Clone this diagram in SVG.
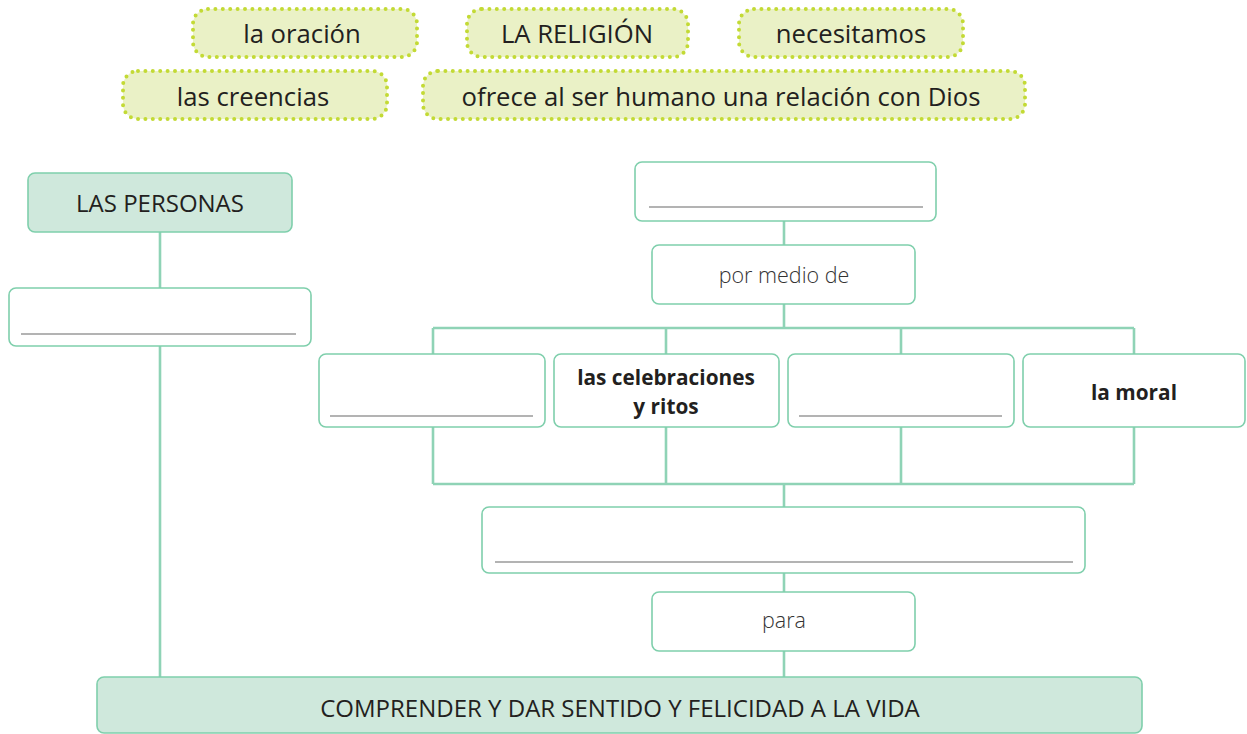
<svg xmlns="http://www.w3.org/2000/svg" width="1247" height="734" viewBox="0 0 1247 734">
<style>
.tag{fill:#eaf1c6;stroke:#c3da35;stroke-width:4;stroke-dasharray:0 7.4;stroke-linecap:round}
.tt{font-family:"Open Sans","Noto Sans",sans-serif;font-size:25.7px;fill:#231f20;text-anchor:middle}
.box{fill:#ffffff;stroke:#7fcfac;stroke-width:1.6}
.hbox{fill:#cfe8dc;stroke:#7fcfac;stroke-width:1.6}
.ul{stroke:#9a9a9a;stroke-width:1.6}
.con{fill:none;stroke:#8fd3b6;stroke-width:2.6}
.t{font-family:"Open Sans","Noto Sans",sans-serif;fill:#231f20;text-anchor:middle;font-size:24px}
.lt{font-family:"Open Sans","Noto Sans",sans-serif;fill:#333333;font-weight:300;text-anchor:middle;font-size:21.5px}
.b{font-family:"Open Sans","Noto Sans",sans-serif;fill:#231f20;font-weight:700;text-anchor:middle;font-size:20.8px}
</style>
<g id="connectors">
<path class="con" d="M160 232V288M160 346V677"/>
<path class="con" d="M784 221V245M784 304V328M433 328H1134M433 328V354M666 328V354M901 328V354M1134 328V354"/>
<path class="con" d="M433 427V484M666 427V484M901 427V484M1134 427V484M433 484H1134M784 484V507"/>
<path class="con" d="M784 573V592M784 651V677"/>
</g>
<g id="tag-oracion"><rect class="tag" x="193" y="9" width="224" height="48" rx="15"/><text class="tt" x="302" y="43">la oración</text></g>
<g id="tag-religion"><rect class="tag" x="467" y="9" width="221" height="48" rx="15"/><text class="tt" x="577" y="43">LA RELIGIÓN</text></g>
<g id="tag-necesitamos"><rect class="tag" x="739" y="9" width="224" height="48" rx="15"/><text class="tt" x="851" y="43">necesitamos</text></g>
<g id="tag-creencias"><rect class="tag" x="123" y="71" width="264" height="48" rx="15"/><text class="tt" x="253" y="106">las creencias</text></g>
<g id="tag-ofrece"><rect class="tag" x="423" y="71" width="602" height="48" rx="15"/><text class="tt" x="721" y="106">ofrece al ser humano una relación con Dios</text></g>
<g id="n-personas"><rect class="hbox" x="28" y="173" width="264" height="59" rx="7"/><text class="t" x="160" y="212">LAS PERSONAS</text></g>
<g id="n-blank-left"><rect class="box" x="9" y="288" width="302" height="58" rx="7"/><line class="ul" x1="21" y1="334" x2="296" y2="334"/></g>
<g id="n-blank-top"><rect class="box" x="635" y="162" width="301" height="59" rx="7"/><line class="ul" x1="649" y1="207" x2="923" y2="207"/></g>
<g id="n-pormedio"><rect class="box" x="652" y="245" width="263" height="59" rx="7"/><text class="lt" x="784" y="283">por medio de</text></g>
<g id="n-blank1"><rect class="box" x="319" y="354" width="226" height="73" rx="7"/><line class="ul" x1="330" y1="416" x2="533" y2="416"/></g>
<g id="n-celebraciones"><rect class="box" x="554" y="354" width="225" height="73" rx="7"/><text class="b" x="666" y="385">las celebraciones</text><text class="b" x="666" y="414">y ritos</text></g>
<g id="n-blank3"><rect class="box" x="788" y="354" width="226" height="73" rx="7"/><line class="ul" x1="799" y1="416" x2="1002" y2="416"/></g>
<g id="n-moral"><rect class="box" x="1023" y="354" width="222" height="73" rx="7"/><text class="b" x="1134" y="400">la moral</text></g>
<g id="n-blank-wide"><rect class="box" x="482" y="507" width="603" height="66" rx="7"/><line class="ul" x1="495" y1="562" x2="1073" y2="562"/></g>
<g id="n-para"><rect class="box" x="652" y="592" width="263" height="59" rx="7"/><text class="lt" x="784" y="628">para</text></g>
<g id="n-comprender"><rect class="hbox" x="97" y="677" width="1045" height="56" rx="7"/><text class="t" x="620" y="717">COMPRENDER Y DAR SENTIDO Y FELICIDAD A LA VIDA</text></g>
</svg>
